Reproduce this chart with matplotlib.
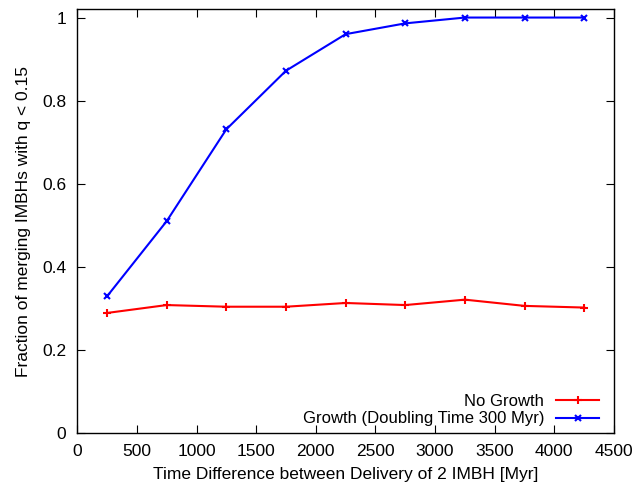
import matplotlib
matplotlib.use("Agg")
import matplotlib.pyplot as plt

plt.rcParams['font.family'] = ['Liberation Sans', 'DejaVu Sans']

time_diff = [250, 750, 1250, 1750, 2250, 2750, 3250, 3750, 4250]
no_growth = [0.289, 0.308, 0.304, 0.304, 0.313, 0.308, 0.321, 0.306, 0.302]
growth = [0.329, 0.510, 0.731, 0.872, 0.960, 0.986, 1.0, 1.0, 1.0]

fig = plt.figure(figsize=(6.33, 4.86), dpi=100)
ax = fig.add_axes([0.122, 0.109, 0.848, 0.872])

ax.plot(time_diff, no_growth, color='red', lw=1.5, marker='+', ms=6, mew=1.5,
        label='No Growth')
ax.plot(time_diff, growth, color='blue', lw=1.5, marker='x', ms=5, mew=1.5,
        label='Growth (Doubling Time 300 Myr)')

ax.set_xlim(0, 4500)
ax.set_ylim(0, 1.02)
ax.set_xticks(range(0, 4501, 500))
ax.set_yticks([0, 0.2, 0.4, 0.6, 0.8, 1.0])
ax.set_yticklabels(['0', '0.2', '0.4', '0.6', '0.8', '1'])
ax.tick_params(direction='in', top=True, right=True, labelsize=12.5, length=6)
ax.tick_params(axis='x', pad=8)
ax.tick_params(axis='y', pad=8)
for s in ax.spines.values():
    s.set_linewidth(1.0)

ax.set_xlabel('Time Difference between Delivery of 2 IMBH [Myr]', fontsize=12.5,
              labelpad=6)
ax.set_ylabel('Fraction of merging IMBHs with q < 0.15', fontsize=12.5,
              labelpad=8)

ax.legend(loc='lower right', frameon=False, markerfirst=False, fontsize=12,
          handlelength=2.6, handletextpad=0.7, borderaxespad=0.0,
          labelspacing=0.15, bbox_to_anchor=(0.985, 0.0))

fig.savefig('out.png', dpi=100)
